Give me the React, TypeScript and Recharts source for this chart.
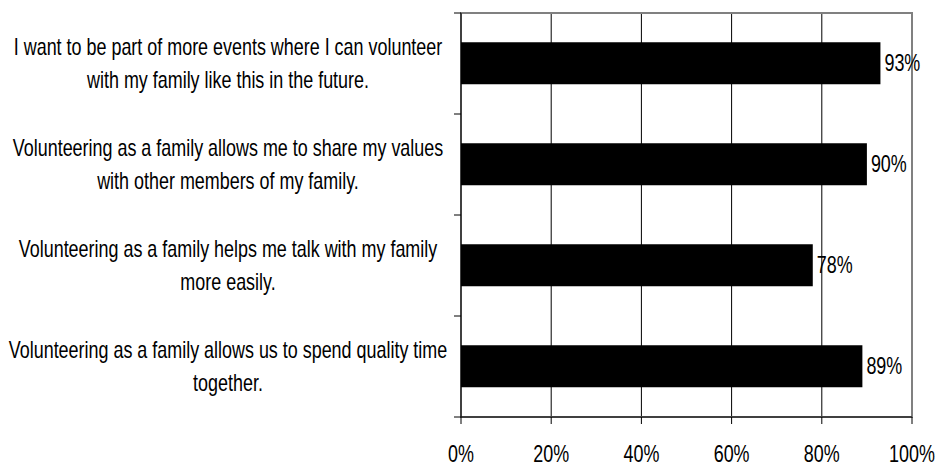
import { BarChart, Bar, XAxis, YAxis, CartesianGrid, LabelList, ReferenceArea } from 'recharts';

const categories = [
  'I want to be part of more events where I can volunteer\nwith my family like this in the future.',
  'Volunteering as a family allows me to share my values\nwith other members of my family.',
  'Volunteering as a family helps me talk with my family\nmore easily.',
  'Volunteering as a family allows us to spend quality time\ntogether.',
];
const agreeShare = [93, 90, 78, 89];
const xTicks = [0, 20, 40, 60, 80, 100];

const data = categories.map((name, i) => ({ name, value: agreeShare[i] }));

const CHART_W = 940;
const CHART_H = 466;
const MARGIN = { top: 13, right: 28, left: 0, bottom: 0 };
const XAXIS_H = 49;
const YAXIS_W = 461;
const FONT = '"Liberation Sans", Arial, sans-serif';
const FONT_SIZE = 23;
// the original uses a condensed face, so squeeze the text horizontally
const SQUEEZE = 0.78;

const PLOT_H = CHART_H - MARGIN.top - XAXIS_H;
const HALF_BAND = PLOT_H / categories.length / 2;

const NarrowText = ({ x, y, anchor, children }: any) => (
  <text
    transform={`translate(${x},${y}) scale(${SQUEEZE},1)`}
    textAnchor={anchor}
    fontFamily={FONT}
    fontSize={FONT_SIZE}
    fill="#000"
  >
    {children}
  </text>
);

const CategoryTick = (props: any) => {
  const { x, y, payload, index } = props;
  const lines = String(payload.value).split('\n');
  return (
    <g>
      <line x1={x - 7} x2={x} y1={y - HALF_BAND} y2={y - HALF_BAND} stroke="#000" />
      {index === categories.length - 1 && (
        <line x1={x - 7} x2={x} y1={y + HALF_BAND} y2={y + HALF_BAND} stroke="#000" />
      )}
      {lines.map((l, i) => (
        <NarrowText key={i} x={x - 233} y={y - 8.5 + i * 33} anchor="middle">
          {l}
        </NarrowText>
      ))}
    </g>
  );
};

const PercentTick = (props: any) => {
  const { x, y, payload } = props;
  return (
    <NarrowText x={x} y={y + 38} anchor="middle">
      {`${payload.value}%`}
    </NarrowText>
  );
};

const BarValue = (props: any) => {
  const { x, y, width, height, value } = props;
  return (
    <NarrowText x={x + width + 4} y={y + height / 2 + 8} anchor="start">
      {`${value}%`}
    </NarrowText>
  );
};

export default function App() {
  return (
    <div style={{ position: 'absolute', left: 0, top: 0, background: '#fff' }}>
      <BarChart
        width={CHART_W}
        height={CHART_H}
        data={data}
        layout="vertical"
        margin={MARGIN}
        barCategoryGap="29%"
      >
        <CartesianGrid horizontal={false} stroke="#000" strokeWidth={1} />
        <ReferenceArea x1={0} x2={100} fill="none" stroke="#808080" strokeWidth={2} />
        <XAxis
          type="number"
          domain={[0, 100]}
          ticks={xTicks}
          height={XAXIS_H}
          stroke="#000"
          tickSize={7}
          tickMargin={0}
          tick={<PercentTick />}
        />
        <YAxis
          type="category"
          dataKey="name"
          width={YAXIS_W}
          stroke="#000"
          tickLine={false}
          tickSize={0}
          tickMargin={0}
          interval={0}
          tick={<CategoryTick />}
        />
        <Bar dataKey="value" fill="#000" isAnimationActive={false}>
          <LabelList dataKey="value" content={<BarValue />} />
        </Bar>
      </BarChart>
    </div>
  );
}
